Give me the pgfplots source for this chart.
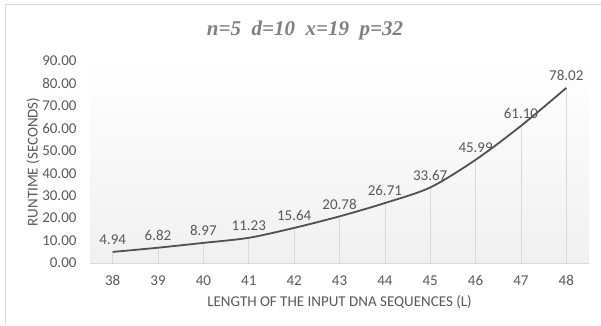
\documentclass[border=0pt]{standalone}
\usepackage{pgfplots}
\pgfplotsset{compat=1.18}
\usepackage{fontspec}
\setmainfont{Carlito}
\newfontfamily\titlefont{Liberation Serif}
\definecolor{txt}{RGB}{89,89,89}
\definecolor{ln}{RGB}{80,80,80}
\definecolor{grd}{RGB}{217,217,217}
\begin{document}
\begin{tikzpicture}[x=1pt,y=1pt]
\useasboundingbox (0,0) rectangle (601,325);
\fill[white] (0,0) rectangle (601,325);
\draw[color={rgb,255:red,217;green,217;blue,217},line width=1pt] (5.5,0) -- (5.5,321) -- (601,321);
\node[text={rgb,255:red,128;green,128;blue,128},font=\fontsize{21}{25}\selectfont\titlefont\bfseries\itshape] at (305,295) {n=5\ \ d=10\ \ x=19\ \ p=32};
\begin{axis}[
  at={(90pt,62pt)}, anchor=south west,
  scale only axis, width=499pt, height=202pt,
  xmin=37.5, xmax=48.5, ymin=0, ymax=90,
  xtick={38,...,48}, ytick={0,10,...,90},
  axis background/.style={top color=white, bottom color={rgb,255:red,240;green,240;blue,240}},
  axis y line*=left, axis x line*=bottom,
  y axis line style={draw=none},
  x axis line style={draw=grd, -},
  major tick length=0pt,
  /pgf/number format/assume math mode=true,
  yticklabel style={/pgf/number format/fixed, /pgf/number format/zerofill, /pgf/number format/precision=2},
  xticklabel style={/pgf/number format/fixed, /pgf/number format/precision=0},
  ticklabel style={font=\fontsize{15}{18}\selectfont, text=txt},
  y tick label style={xshift=-10pt},
  x tick label style={anchor=base, yshift=-22pt},
  xlabel={LENGTH OF THE INPUT DNA SEQUENCES (L)},
  ylabel={RUNTIME (SECONDS)},
  label style={font=\fontsize{15}{18}\selectfont, text=txt},
  ylabel style={at={(axis description cs:-0.114,0.5)}, anchor=center},
  xlabel style={at={(axis description cs:0.5,0)}, yshift=-39pt, anchor=center},
  clip=false,
]
\addplot[ycomb, draw=grd, line width=0.6pt, mark=none] table {
x y
38 4.94
39 6.82
40 8.97
41 11.23
42 15.64
43 20.78
44 26.71
45 33.67
46 45.99
47 61.10
48 78.02
};
\addplot[color=ln, line width=1.8pt, smooth, mark=none,
  nodes near coords,
  nodes near coords style={font=\fontsize{15}{18}\selectfont, text=txt, anchor=south, yshift=3pt, /pgf/number format/fixed, /pgf/number format/zerofill, /pgf/number format/precision=2, /pgf/number format/assume math mode=true},
] table {
x y
38 4.94
39 6.82
40 8.97
41 11.23
42 15.64
43 20.78
44 26.71
45 33.67
46 45.99
47 61.10
48 78.02
};
\end{axis}
\end{tikzpicture}
\end{document}
